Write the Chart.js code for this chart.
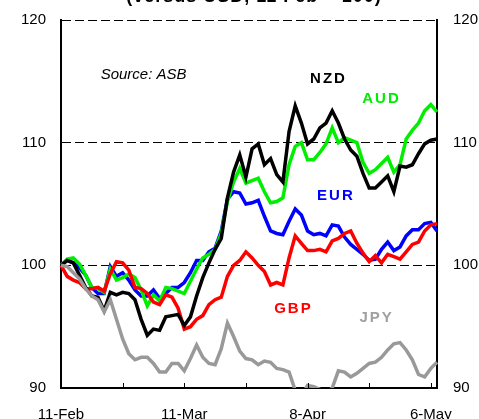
<!DOCTYPE html>
<html>
<head>
<meta charset="utf-8">
<script src="https://cdn.jsdelivr.net/npm/chart.js@4.4.0/dist/chart.umd.min.js"></script>
<style>
  html, body { margin: 0; padding: 0; background: #fff; }
  canvas { display: block; }
</style>
</head>
<body>
<canvas id="fxChart" width="479" height="419"></canvas>
<script>
'use strict';

// business days, 11 Feb - 7 May
const dates = [
    '11-Feb', '12-Feb', '13-Feb', '14-Feb', '15-Feb',
    '18-Feb', '19-Feb', '20-Feb', '21-Feb', '22-Feb',
    '25-Feb', '26-Feb', '27-Feb', '28-Feb', '1-Mar',
    '4-Mar', '5-Mar', '6-Mar', '7-Mar', '8-Mar',
    '11-Mar', '12-Mar', '13-Mar', '14-Mar', '15-Mar',
    '18-Mar', '19-Mar', '20-Mar', '21-Mar', '22-Mar',
    '25-Mar', '26-Mar', '27-Mar', '28-Mar', '29-Mar',
    '1-Apr', '2-Apr', '3-Apr', '4-Apr', '5-Apr',
    '8-Apr', '9-Apr', '10-Apr', '11-Apr', '12-Apr',
    '15-Apr', '16-Apr', '17-Apr', '18-Apr', '19-Apr',
    '22-Apr', '23-Apr', '24-Apr', '25-Apr', '26-Apr',
    '29-Apr', '30-Apr', '1-May', '2-May', '3-May',
    '6-May', '7-May'
];
const shownDates = ['11-Feb', '11-Mar', '8-Apr', '6-May'];
const yTicks = [90, 100, 110, 120];

const nzd = [
    100, 100.4, 100.2, 99.2, 98.2, 97.5, 97.4, 96.3, 97.8, 97.6,
    97.8, 97.7, 97.2, 95.6, 94.3, 94.8, 94.7, 95.8, 95.9, 96.0,
    95.1, 95.8, 97.5, 99.0, 100.2, 101.3, 102.2, 105.5, 107.6, 109.0,
    107.2, 109.5, 109.9, 108.2, 108.7, 107.4, 106.8, 110.9, 113.0, 111.6,
    109.9, 110.3, 111.2, 111.6, 112.6, 111.6, 110.3, 109.4, 108.9, 107.5,
    106.3, 106.3, 106.8, 107.3, 106.0, 108.1, 108.0, 108.2, 109.1, 109.9,
    110.2, 110.3
];
const aud = [
    100, 100.5, 100.6, 100.1, 99.2, 98.2, 98.1, 97.8, 99.7, 98.8,
    99.0, 99.3, 99.0, 98.0, 96.7, 97.6, 97.1, 98.2, 98.1, 97.9,
    97.7, 98.7, 99.7, 100.6, 100.9, 101.3, 102.6, 105.2, 106.8, 107.9,
    106.7, 106.9, 107.1, 106.0, 105.1, 105.2, 105.5, 108.2, 109.7, 110.0,
    108.6, 108.6, 109.2, 109.9, 111.2, 110.0, 110.4, 110.2, 110.0, 108.4,
    107.5, 107.8, 108.3, 108.8, 107.6, 108.2, 110.3, 111.0, 111.6, 112.6,
    113.1, 112.5
];
const eur = [
    100, 100.4, 100.2, 99.8, 99.2, 98.2, 97.7, 97.7, 99.9, 99.1,
    99.4, 98.8, 98.0, 97.5, 97.5, 98.0, 97.3, 97.7, 98.2, 98.2,
    98.6, 99.4, 100.4, 100.4, 101.1, 101.4, 102.8, 105.4, 106.0, 105.9,
    105.0, 105.1, 105.3, 104.0, 102.8, 102.6, 102.5, 103.6, 104.6, 104.1,
    102.8, 102.5, 102.6, 102.4, 103.3, 103.2, 102.3, 101.7, 101.3, 100.9,
    100.4, 100.5, 101.3, 101.9, 101.2, 101.5, 102.4, 102.9, 102.9, 103.4,
    103.5, 102.8
];
const gbp = [
    100, 99.1, 98.8, 98.6, 98.1, 98.1, 98.2, 97.9, 99.3, 100.3,
    100.2, 99.6, 98.2, 98.1, 97.7, 97.0, 96.8, 97.6, 97.4, 96.5,
    94.8, 95.0, 95.6, 95.9, 96.8, 97.2, 97.4, 99.1, 100.0, 100.4,
    101.1, 100.6, 100.0, 99.5, 98.4, 98.6, 98.4, 100.6, 102.4, 101.8,
    101.2, 101.2, 101.3, 101.1, 102.0, 102.2, 102.6, 102.8, 101.8, 101.0,
    100.3, 100.8, 100.2, 100.9, 100.7, 100.5, 101.1, 101.7, 101.9, 102.8,
    103.3, 103.4
];
const jpy = [
    100, 99.9, 99.4, 98.9, 98.1, 97.5, 97.2, 96.2, 97.2, 95.6,
    94.0, 92.8, 92.3, 92.5, 92.5, 92.0, 91.3, 91.3, 92.0, 92.0,
    91.4, 92.4, 93.5, 92.5, 92.0, 91.9, 93.2, 95.3, 94.2, 93.0,
    92.4, 92.3, 91.9, 92.2, 92.1, 91.6, 91.5, 91.3, 89.8, 89.3,
    90.2, 90.1, 89.9, 89.6, 90.0, 91.4, 91.3, 90.9, 91.2, 91.6,
    92.0, 92.1, 92.5, 93.1, 93.6, 93.7, 93.1, 92.3, 91.1, 90.9,
    91.6, 92.1
];

// in-chart labels, anchored to category index / value
const notes = [
    {text: 'Source: ASB', i: 13.4, v: 115.5, color: '#000', font: 'italic 15px "Liberation Sans", Arial, sans-serif', spacing: '0px'},
    {text: 'NZD', i: 43.4, v: 115.2, color: '#000', font: 'bold 15px "Liberation Sans", Arial, sans-serif', spacing: '2px'},
    {text: 'AUD', i: 52.0, v: 113.6, color: '#00ee00', font: 'bold 15px "Liberation Sans", Arial, sans-serif', spacing: '2px'},
    {text: 'EUR', i: 44.6, v: 105.7, color: '#0000ff', font: 'bold 15px "Liberation Sans", Arial, sans-serif', spacing: '2px'},
    {text: 'GBP', i: 37.7, v: 96.45, color: '#ff0000', font: 'bold 15px "Liberation Sans", Arial, sans-serif', spacing: '2px'},
    {text: 'JPY', i: 51.2, v: 95.7, color: '#a0a0a0', font: 'bold 15px "Liberation Sans", Arial, sans-serif', spacing: '2px'}
];

const tickFont = {family: '"Liberation Sans", Arial, sans-serif', size: 15};

function series(label, data, color, order) {
    return {
        label: label,
        data: data,
        borderColor: color,
        backgroundColor: color,
        borderWidth: 3.5,
        pointRadius: 0,
        tension: 0,
        order: order
    };
}

// fixed axis widths; drop the label padding chart.js adds above/below
function fixWidth(w) {
    return function (scale) {
        scale.width = w;
        scale.paddingTop = 0;
        scale.paddingBottom = 0;
    };
}

const extras = {
    id: 'extras',
    afterDraw(chart) {
        const ctx = chart.ctx;
        const x = chart.scales.x;
        const y = chart.scales.y;

        // inward tick marks every two weeks
        ctx.save();
        ctx.strokeStyle = '#000';
        ctx.lineWidth = 1;
        for (let i = 10; i < dates.length; i += 10) {
            const px = Math.round(x.getPixelForValue(i)) + 0.5;
            ctx.beginPath();
            ctx.moveTo(px, y.bottom);
            ctx.lineTo(px, y.bottom - 5);
            ctx.stroke();
        }
        ctx.restore();

        ctx.save();
        ctx.textAlign = 'center';
        ctx.textBaseline = 'middle';
        notes.forEach(function (n) {
            ctx.font = n.font;
            ctx.fillStyle = n.color;
            ctx.letterSpacing = n.spacing;
            ctx.fillText(n.text, x.getPixelForValue(n.i), y.getPixelForValue(n.v));
        });

        // title, mostly cut off by the top edge
        ctx.letterSpacing = '1px';
        ctx.font = 'bold 18px "Liberation Sans", Arial, sans-serif';
        ctx.fillStyle = '#000';
        ctx.textBaseline = 'alphabetic';
        ctx.fillText('(versus USD, 11 Feb = 100)', 254, 2);
        ctx.restore();
    }
};

function drawChart() {
    new Chart('fxChart', {
        type: 'line',
        data: {
            labels: dates,
            datasets: [
                series('JPY', jpy, '#999999', 0),
                series('NZD', nzd, '#000000', 1),
                series('GBP', gbp, '#ff0000', 2),
                series('AUD', aud, '#00ee00', 3),
                series('EUR', eur, '#0000ff', 4)
            ]
        },
        plugins: [extras],
        options: {
            responsive: false,
            animation: false,
            devicePixelRatio: 1,
            layout: {padding: {top: 20, left: 0, right: 0, bottom: 0}},
            plugins: {
                legend: {display: false},
                tooltip: {enabled: false},
                title: {display: false}
            },
            scales: {
                x: {
                    type: 'category',
                    grid: {display: false},
                    border: {display: true, color: '#000', width: 2},
                    ticks: {
                        autoSkip: false,
                        maxRotation: 0,
                        padding: 10,
                        color: '#000',
                        font: tickFont,
                        callback: function (value) {
                            const d = dates[value];
                            return shownDates.includes(d) ? d : '';
                        }
                    },
                    afterFit: function (scale) { scale.height = 31; }
                },
                y: {
                    position: 'left',
                    min: 90,
                    max: 120,
                    afterBuildTicks: function (scale) {
                        scale.ticks = yTicks.map(function (v) { return {value: v}; });
                    },
                    grid: {
                        drawTicks: false,
                        lineWidth: 1,
                        color: function (c) {
                            return c.tick && c.tick.value === 90 ? 'rgba(0,0,0,0)' : '#000';
                        }
                    },
                    border: {display: true, color: '#000', width: 2, dash: [9, 4]},
                    ticks: {padding: 15, color: '#000', font: tickFont},
                    afterFit: fixWidth(61)
                },
                y2: {
                    position: 'right',
                    min: 90,
                    max: 120,
                    afterBuildTicks: function (scale) {
                        scale.ticks = yTicks.map(function (v) { return {value: v}; });
                    },
                    grid: {display: false, drawTicks: false},
                    border: {display: true, color: '#000', width: 2},
                    ticks: {padding: 16, color: '#000', font: tickFont},
                    afterFit: fixWidth(42)
                }
            }
        }
    });
}

drawChart();
</script>
</body>
</html>
